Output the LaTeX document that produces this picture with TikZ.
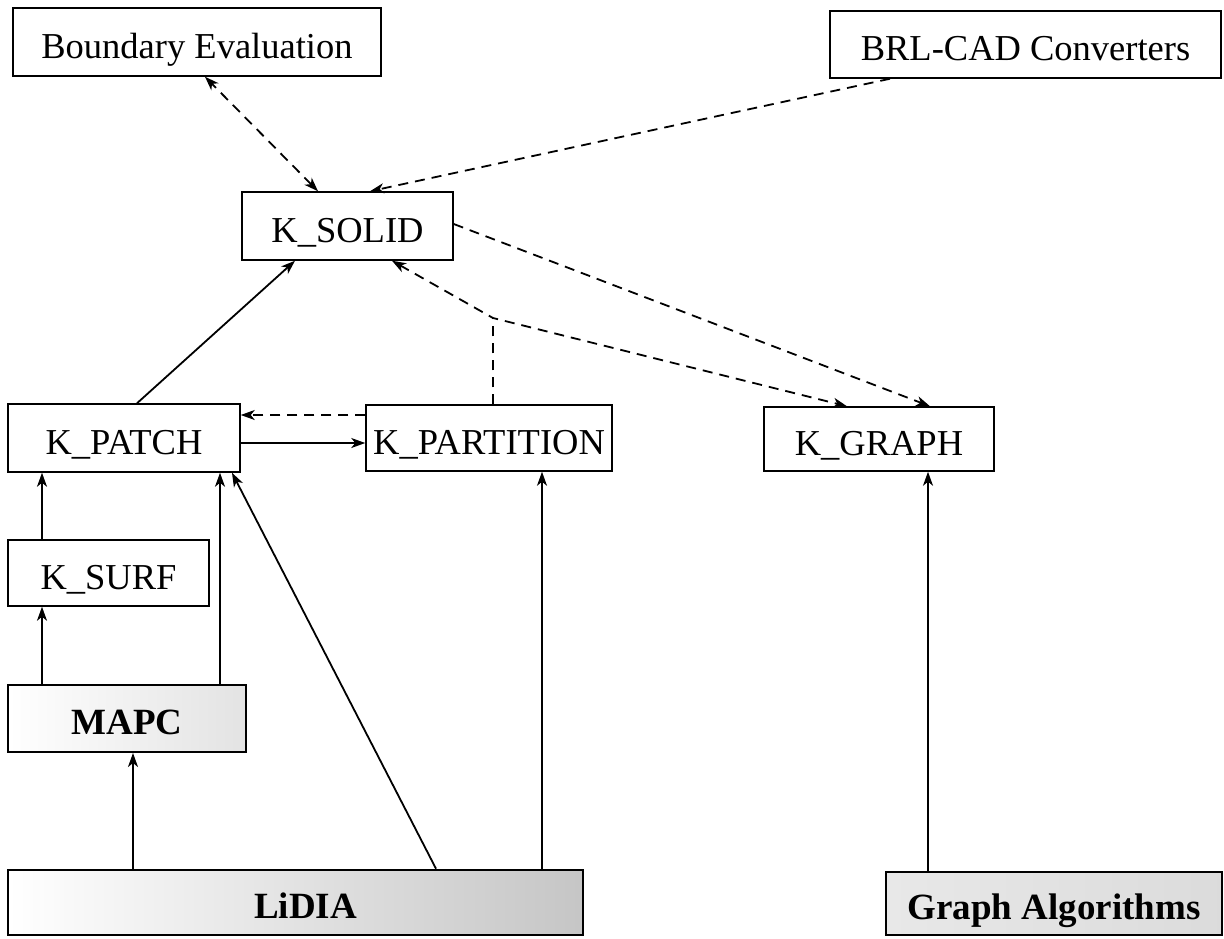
\documentclass[tikz,border=0pt]{standalone}
\usepackage{fontspec}
\setmainfont{Liberation Serif}
\usetikzlibrary{arrows.meta}
\begin{document}
\begin{tikzpicture}[x=1pt,y=-1pt,
  box/.style={draw, line width=1.5pt, inner sep=0pt, text height=32pt, text depth=0pt,
    font=\fontsize{36.5}{40}\selectfont},
  libbox/.style={box, line width=2.6pt, font=\fontsize{37}{40}\selectfont\bfseries},
  tip/.style={Stealth[length=14pt,width=10pt,inset=4pt]},
  link/.style={line width=1.8pt, -{Stealth[length=14pt,width=10pt,inset=4pt]}},
  dlink/.style={link, dash pattern=on 10pt off 7pt},
  dline/.style={line width=1.8pt, dash pattern=on 10pt off 7pt},
]
\useasboundingbox (0,0) rectangle (1224,938);

% class boxes
\node[box, minimum width=368pt, minimum height=68pt] (be)  at (197,42)    {Boundary Evaluation};
\node[box, minimum width=391pt, minimum height=67pt] (brl) at (1025.5,44.5) {BRL-CAD Converters};
\node[box, minimum width=211pt, minimum height=68pt] (solid) at (347.5,226) {K\_SOLID};
\node[box, minimum width=232pt, minimum height=68pt] (patch) at (124,438)   {K\_PATCH};
\node[box, minimum width=246pt, minimum height=66pt] (part)  at (489,438)   {K\_PARTITION};
\node[box, minimum width=230pt, minimum height=64pt] (graph) at (879,439)   {K\_GRAPH};
\node[box, minimum width=201pt, minimum height=66pt] (surf)  at (108.5,573) {K\_SURF};

% external libraries
\node[libbox, line width=2pt, minimum width=238pt, minimum height=67pt,
      left color=white, right color=gray!22] (mapc) at (127,718.5) {MAPC};
\node[libbox, minimum width=575pt, minimum height=65pt,
      left color=white, right color=gray!45] (lidia) at (295.5,902.5) {\hspace*{20pt}LiDIA};
\node[libbox, minimum width=336pt, minimum height=63pt,
      left color=gray!18, right color=gray!28] (galg) at (1054,903.5) {Graph Algorithms};

\coordinate (j) at (493,318);

% dashed dependencies
\draw[dlink, {Stealth[length=14pt,width=10pt,inset=4pt]}-{Stealth[length=14pt,width=10pt,inset=4pt]}]
  ([xshift=-29.5pt]solid.north) -- ([xshift=8pt]be.south);
\draw[dlink] ([xshift=-135.5pt]brl.south) -- ([xshift=22.5pt]solid.north);
\draw[dlink] ([yshift=2pt]solid.east) -- ([xshift=51pt]graph.north);
\draw[dlink, {Stealth[length=14pt,width=10pt,inset=4pt]}-{Stealth[length=14pt,width=10pt,inset=4pt]}]
  ([xshift=44.5pt]solid.south) -- (j) -- ([xshift=-32pt]graph.north);
\draw[dline] ([xshift=4pt]part.north) -- (j);
\draw[dlink] ([yshift=23pt]part.west) -- ([yshift=23pt]patch.east);

% solid dependencies
\draw[link] ([xshift=13pt]patch.north) -- ([xshift=-52.5pt]solid.south);
\draw[link] ([yshift=-5pt]patch.east) -- ([yshift=-5pt]part.west);
\draw[link] ([xshift=-66.5pt]surf.north) -- ([xshift=-82pt]patch.south);
\draw[link] ([xshift=-85pt]mapc.north) -- ([xshift=-66.5pt]surf.south);
\draw[link] ([xshift=93pt]mapc.north) -- ([xshift=96pt]patch.south);
\draw[link] ([xshift=-162.5pt]lidia.north) -- ([xshift=6pt]mapc.south);
\draw[link] ([xshift=140.5pt]lidia.north) -- ([xshift=108pt]patch.south);
\draw[link] ([xshift=246.5pt]lidia.north) -- ([xshift=53pt]part.south);
\draw[link] ([xshift=-126pt]galg.north) -- ([xshift=49pt]graph.south);
\end{tikzpicture}
\end{document}
